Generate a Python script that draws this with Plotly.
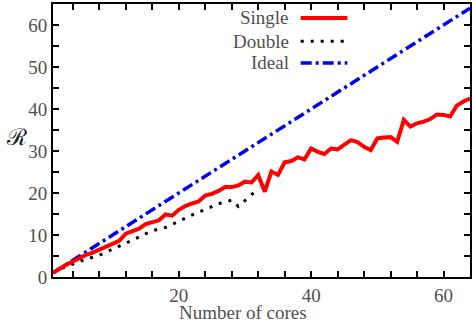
import plotly.graph_objects as go

cores = list(range(1, 65))
single = [1.0, 2.0, 2.9, 3.7, 4.5, 5.3, 5.8, 6.5, 7.2, 8.0,
          8.6, 10.3, 10.8, 11.5, 12.6, 13.0, 13.5, 14.9, 14.6, 16.0,
          16.9, 17.5, 18.0, 19.4, 19.8, 20.5, 21.4, 21.4, 21.8, 22.7,
          22.5, 24.3, 20.3, 25.1, 24.3, 27.3, 27.6, 28.5, 28.0, 30.6,
          29.8, 29.3, 30.6, 30.4, 31.4, 32.6, 32.1, 31.0, 30.2, 33.0,
          33.2, 33.3, 32.2, 37.4, 35.8, 36.6, 37.0, 37.6, 38.7, 38.6,
          38.2, 40.8, 41.8, 42.5]
double_cores = list(range(1, 33))
double = [1.0, 1.8, 2.5, 3.1, 3.7, 4.3, 4.7, 5.2, 5.9, 6.6,
          7.3, 8.0, 8.8, 9.5, 10.3, 11.0, 11.4, 11.8, 12.5, 13.3,
          14.0, 14.8, 15.5, 16.0, 16.8, 17.5, 17.8, 18.3, 16.8, 18.2,
          19.6, 21.0]
ideal = [float(c) for c in cores]

legend_names = ["Single", "Double", "Ideal"]
colors = ["#ff0000", "#000000", "#0000ee"]
dashes = ["solid", "3px,7px", "11px,4px,3px,4px"]
widths = [4, 3, 3.5]

FONT = "Liberation Serif"
GRAY = "#505050"

fig = go.Figure()
fig.add_trace(go.Scatter(x=cores, y=ideal, mode="lines",
                         line=dict(color=colors[2], width=widths[2], dash=dashes[2]),
                         showlegend=False))
fig.add_trace(go.Scatter(x=double_cores, y=double, mode="lines",
                         line=dict(color=colors[1], width=widths[1], dash=dashes[1]),
                         showlegend=False))
fig.add_trace(go.Scatter(x=cores, y=single, mode="lines",
                         line=dict(color=colors[0], width=widths[0], dash=dashes[0]),
                         showlegend=False))

# manual legend (text to the left of line sample)
ys = [0.949, 0.864, 0.784]
for name, c, d, w, yy in zip(legend_names, colors, dashes, widths, ys):
    fig.add_annotation(x=0.570, y=yy, xref="paper", yref="paper", text=name,
                       showarrow=False, xanchor="right", yanchor="middle",
                       font=dict(family=FONT, size=19, color=GRAY))
    fig.add_shape(type="line", xref="paper", yref="paper",
                  x0=0.594, x1=0.706, y0=yy, y1=yy,
                  line=dict(color=c, width=w, dash=d))

fig.add_annotation(x=0.455, y=-0.131, xref="paper", yref="paper",
                   text="Number of cores", showarrow=False,
                   xanchor="center", yanchor="middle",
                   font=dict(family=FONT, size=19, color=GRAY))
fig.add_annotation(x=-0.088, y=0.513, xref="paper", yref="paper",
                   text="ℛ", showarrow=False, xanchor="center", yanchor="middle",
                   font=dict(family="DejaVu Serif", size=23, color="#202020"))

axis_common = dict(showline=True, linecolor="black", linewidth=1.8,
                   mirror="ticks", ticks="inside", ticklen=6, tickwidth=1.5,
                   tickcolor="black", showgrid=False, zeroline=False,
                   tickfont=dict(family=FONT, size=19, color=GRAY))
fig.update_xaxes(range=[1, 64], tick0=0, dtick=20,
                 minor=dict(dtick=4, tick0=0, ticks="inside", ticklen=6,
                            tickcolor="black", tickwidth=1.5),
                 **axis_common)
fig.update_yaxes(range=[0, 65], tick0=0, dtick=10,
                 minor=dict(dtick=5, tick0=0, ticks="inside", ticklen=6,
                            tickcolor="black", tickwidth=1.5),
                 **axis_common)

fig.update_layout(width=472, height=327, paper_bgcolor="white",
                  plot_bgcolor="white",
                  margin=dict(l=53, r=0, t=4, b=50), showlegend=False)

fig.write_html("out.html")
